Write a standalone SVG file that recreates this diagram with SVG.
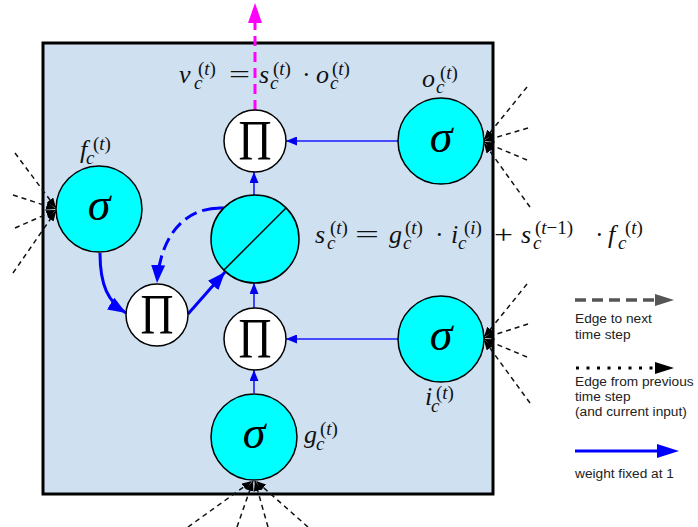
<svg xmlns="http://www.w3.org/2000/svg" width="698" height="527" viewBox="0 0 698 527">
<style>
.gate{fill:#00ffff;stroke:#000;stroke-width:1.5}
.mul{fill:#fff;stroke:#000;stroke-width:1.5}
.sig{font-family:"Liberation Serif","DejaVu Serif",serif;font-style:italic;font-size:46px;fill:#000;text-anchor:middle}
.pi{font-family:"Liberation Serif","DejaVu Serif",serif;font-size:57px;fill:#000;text-anchor:middle}
.m{font-family:"Liberation Serif","DejaVu Serif",serif;font-style:italic;font-size:26px;fill:#111}
.s{font-size:19px}
.u{font-style:normal}
.fan{stroke:#111;stroke-width:1.5;stroke-dasharray:5 4;fill:none;marker-end:url(#fh)}
.thin{stroke:#1a1aff;stroke-width:1.6;fill:none;marker-end:url(#bs)}
.thick{stroke:#0000ff;stroke-width:3;fill:none;marker-end:url(#bb)}
.leg{font-family:"Liberation Sans",Arial,sans-serif;font-size:13.7px;fill:#222}
</style>
<defs>
<marker id="bs" markerUnits="userSpaceOnUse" markerWidth="11" markerHeight="9" refX="11" refY="4.5" orient="auto"><path d="M0,0 L11,4.5 L0,9 z" fill="#0000ee"/></marker>
<marker id="bb" markerUnits="userSpaceOnUse" markerWidth="18" markerHeight="14" refX="18" refY="7" orient="auto"><path d="M0,0 L18,7 L0,14 z" fill="#0000ff"/></marker>
<marker id="fh" markerUnits="userSpaceOnUse" markerWidth="10" markerHeight="8" refX="10" refY="4" orient="auto"><path d="M0,0 L10,4 L0,8 z" fill="#000"/></marker>
</defs>
<rect x="43" y="43" width="450" height="451" fill="#cfe0f1" stroke="#000" stroke-width="3"/>
<g id="connectors">
<line class="fan" x1="15" y1="153" x2="56" y2="208"/>
<line class="fan" x1="13" y1="195" x2="56" y2="209"/>
<line class="fan" x1="15" y1="228" x2="56" y2="210"/>
<line class="fan" x1="13" y1="273" x2="56" y2="211"/>
<line class="fan" x1="527" y1="87" x2="484" y2="140"/>
<line class="fan" x1="528" y1="128" x2="484" y2="141"/>
<line class="fan" x1="527" y1="160" x2="484" y2="142"/>
<line class="fan" x1="530" y1="207" x2="484" y2="143"/>
<line class="fan" x1="527" y1="284" x2="484" y2="337"/>
<line class="fan" x1="528" y1="324" x2="484" y2="338"/>
<line class="fan" x1="527" y1="357" x2="484" y2="339"/>
<line class="fan" x1="530" y1="403" x2="484" y2="340"/>
<line class="fan" x1="188" y1="527" x2="252" y2="481"/>
<line class="fan" x1="237" y1="527" x2="253" y2="481"/>
<line class="fan" x1="268" y1="527" x2="255" y2="481"/>
<line class="fan" x1="308" y1="527" x2="256" y2="481"/>
<line class="thin" x1="398" y1="141" x2="286" y2="141"/>
<line class="thin" x1="398" y1="339" x2="286" y2="339"/>
<line class="thin" x1="254" y1="393" x2="254" y2="370"/>
<line class="thin" x1="254" y1="308" x2="254" y2="283"/>
<line class="thin" x1="254" y1="195" x2="254" y2="172"/>
<path class="thick" d="M100 253 C100 285 108 302 126 313"/>
<line class="thick" x1="188" y1="314" x2="225" y2="272"/>
<path class="thick" d="M224 208 C186 206 160 235 157 283" stroke-dasharray="22 6 13 6 13 6 13 6"/>
<line x1="255" y1="110" x2="255" y2="20" stroke="#ff00ff" stroke-width="3" stroke-dasharray="10 6"/>
<polygon points="255,3 262,23 248,23" fill="#ff00ff"/>
</g>
<g id="f_gate"><circle class="gate" cx="99" cy="209" r="43"/><text class="sig" x="99" y="220">σ</text></g>
<g id="o_gate"><circle class="gate" cx="441" cy="141" r="43"/><text class="sig" x="441" y="152">σ</text></g>
<g id="i_gate"><circle class="gate" cx="441" cy="339" r="43"/><text class="sig" x="441" y="350">σ</text></g>
<g id="g_gate"><circle class="gate" cx="254" cy="437" r="43"/><text class="sig" x="254" y="448">σ</text></g>
<g id="state"><circle class="gate" cx="255" cy="239" r="44"/><line x1="224" y1="270" x2="286" y2="208" stroke="#000" stroke-width="1.5"/></g>
<g id="mul_out"><circle class="mul" cx="255" cy="141" r="31"/><text class="pi" x="255" y="160" textLength="33" lengthAdjust="spacingAndGlyphs">Π</text></g>
<g id="mul_forget"><circle class="mul" cx="157" cy="315" r="31"/><text class="pi" x="157" y="334" textLength="33" lengthAdjust="spacingAndGlyphs">Π</text></g>
<g id="mul_in"><circle class="mul" cx="255" cy="339" r="31"/><text class="pi" x="255" y="358" textLength="33" lengthAdjust="spacingAndGlyphs">Π</text></g>
<g id="labels">
<text class="m" x="80" y="158">f<tspan class="s" x="86" dy="6">c</tspan><tspan class="s" x="93" dy="-14"><tspan class="u">(</tspan>t<tspan class="u">)</tspan></tspan></text>
<text class="m" x="422" y="87">o<tspan class="s" x="436" dy="6">c</tspan><tspan class="s" x="440" dy="-14"><tspan class="u">(</tspan>t<tspan class="u">)</tspan></tspan></text>
<text class="m" x="425" y="405">i<tspan class="s" x="431" dy="7">c</tspan><tspan class="s" x="436" dy="-13"><tspan class="u">(</tspan>t<tspan class="u">)</tspan></tspan></text>
<text class="m" x="304" y="443">g<tspan class="s" x="316" dy="7">c</tspan><tspan class="s" x="320" dy="-15"><tspan class="u">(</tspan>t<tspan class="u">)</tspan></tspan></text>
<text class="m" x="179" y="83">v<tspan class="s" x="194" dy="6">c</tspan><tspan class="s" x="198" dy="-14"><tspan class="u">(</tspan>t<tspan class="u">)</tspan></tspan></text>
<text class="m u" x="229" y="83" textLength="21" lengthAdjust="spacingAndGlyphs">=</text>
<text class="m" x="259" y="83">s<tspan class="s" x="270" dy="6">c</tspan><tspan class="s" x="273" dy="-14"><tspan class="u">(</tspan>t<tspan class="u">)</tspan></tspan></text>
<text class="m u" x="302" y="83">·</text>
<text class="m" x="316" y="83">o<tspan class="s" x="330" dy="6">c</tspan><tspan class="s" x="332" dy="-14"><tspan class="u">(</tspan>t<tspan class="u">)</tspan></tspan></text>
<text class="m" x="315" y="243">s<tspan class="s" x="327" dy="6">c</tspan><tspan class="s" x="330" dy="-15"><tspan class="u">(</tspan>t<tspan class="u">)</tspan></tspan></text>
<text class="m u" x="355" y="243" textLength="24" lengthAdjust="spacingAndGlyphs">=</text>
<text class="m" x="389" y="243">g<tspan class="s" x="403" dy="6">c</tspan><tspan class="s" x="405" dy="-15"><tspan class="u">(</tspan>t<tspan class="u">)</tspan></tspan></text>
<text class="m u" x="435" y="243">·</text>
<text class="m" x="451" y="243">i<tspan class="s" x="458" dy="6">c</tspan><tspan class="s" x="464" dy="-15"><tspan class="u">(</tspan>i<tspan class="u">)</tspan></tspan></text>
<text class="m u" x="494" y="243" textLength="19" lengthAdjust="spacingAndGlyphs">+</text>
<text class="m" x="521" y="243">s<tspan class="s" x="533" dy="6">c</tspan><tspan class="s" x="535" dy="-15"><tspan class="u">(</tspan>t<tspan class="u">−1)</tspan></tspan></text>
<text class="m u" x="595" y="243">·</text>
<text class="m" x="608" y="243">f<tspan class="s" x="618" dy="6">c</tspan><tspan class="s" x="625" dy="-15"><tspan class="u">(</tspan>t<tspan class="u">)</tspan></tspan></text>
</g>
<g id="legend">
<line x1="575" y1="300" x2="657" y2="300" stroke="#555" stroke-width="3.5" stroke-dasharray="11 6"/>
<polygon points="655,294 674,300 655,306" fill="#555"/>
<text class="leg" x="575" y="323">Edge to next</text>
<text class="leg" x="575" y="339">time step</text>
<line x1="576" y1="368" x2="656" y2="368" stroke="#000" stroke-width="3" stroke-dasharray="3 7.5"/>
<polygon points="655,362 674,368 655,374" fill="#000"/>
<text class="leg" x="575" y="386">Edge from previous</text>
<text class="leg" x="575" y="401">time step</text>
<text class="leg" x="575" y="416">(and current input)</text>
<line x1="575" y1="451" x2="660" y2="451" stroke="#0000ff" stroke-width="3"/>
<polygon points="657,444 679,451 657,458" fill="#0000ff"/>
<text class="leg" x="575" y="478">weight fixed at 1</text>
</g>
</svg>
